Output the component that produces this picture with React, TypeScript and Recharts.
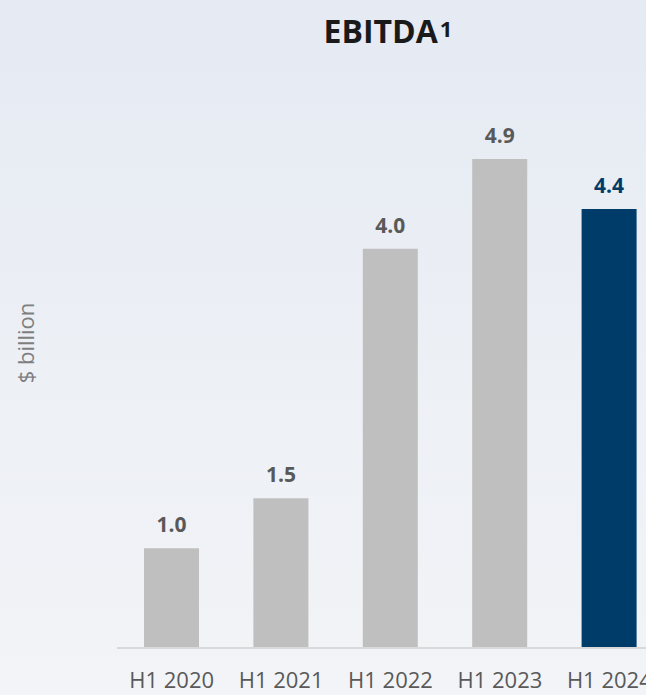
import { BarChart, Bar, XAxis, YAxis, Cell } from "recharts";

const categories = ["H1 2020", "H1 2021", "H1 2022", "H1 2023", "H1 2024"];
const ebitda = [1.0, 1.5, 4.0, 4.9, 4.4];

const GREY = "#bfbfbf";
const NAVY = "#003c6a";
const TEXT = "#595959";

const data = categories.map((name, i) => ({ name, value: ebitda[i] }));
const last = data.length - 1;

function ValueLabel(props: any) {
  const { x, y, width, value, index } = props;
  const hi = index === last;
  return (
    <text
      x={Number(x) + Number(width) / 2}
      y={Number(y) - 16}
      textAnchor="middle"
      fontSize={21}
      fontWeight={700}
      fill={hi ? NAVY : TEXT}
      fontFamily='"Open Sans", sans-serif'
    >
      {Number(value).toFixed(1)}
    </text>
  );
}

export default function App() {
  return (
    <div
      style={{
        position: "fixed",
        left: 0,
        top: 0,
        width: 646,
        height: 695,
        overflow: "hidden",
        background: "linear-gradient(180deg, #e5eaf3 0%, #edf0f5 55%, #f2f4f7 100%)",
        fontFamily: '"Open Sans", sans-serif',
      }}
    >
      <div
        style={{
          position: "absolute",
          left: 0,
          width: 776,
          top: 8,
          textAlign: "center",
          fontSize: 32,
          fontWeight: 700,
          color: "#1a1a1a",
          lineHeight: "46px",
        }}
      >
        EBITDA<sup style={{ fontSize: 22, verticalAlign: "top", position: "relative", top: -3, marginLeft: 2 }}>1</sup>
      </div>
      <div
        style={{
          position: "absolute",
          left: 25,
          top: 343,
          transform: "translate(-50%, -50%) rotate(-90deg)",
          fontSize: 22,
          color: "#7f7f7f",
          whiteSpace: "nowrap",
        }}
      >
        $ billion
      </div>
      <div style={{ position: "absolute", left: 0, top: 0 }}>
        <BarChart
          width={700}
          height={695}
          data={data}
          margin={{ top: 149, right: 36, left: 117, bottom: 0 }}
          barSize={55}
        >
          <XAxis
            dataKey="name"
            height={47}
            tickLine={false}
            tickMargin={18}
            axisLine={{ stroke: "#d9d9d9", strokeWidth: 2 }}
            tick={{ fill: TEXT, fontSize: 22, fontFamily: '"Open Sans", sans-serif' }}
            interval={0}
          />
          <YAxis hide domain={[0, 5]} />
          <Bar dataKey="value" isAnimationActive={false} label={<ValueLabel />}>
            {data.map((_, i) => (
              <Cell key={i} fill={i === last ? NAVY : GREY} />
            ))}
          </Bar>
        </BarChart>
      </div>
    </div>
  );
}
